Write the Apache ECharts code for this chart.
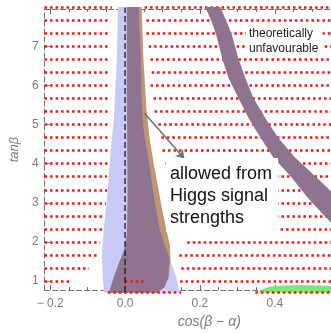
<!DOCTYPE html>
<html>
<head>
<meta charset="utf-8">
<script src="https://cdn.jsdelivr.net/npm/echarts@6/dist/echarts.min.js"></script>
<style>
  html, body { margin: 0; padding: 0; background: #fff; }
  #chart { width: 331px; height: 334px; }
</style>
</head>
<body>
<div id="chart"></div>
<script>
// axis ranges (cos(beta-alpha), tan beta)
var cosMin = -0.215, cosMax = 0.55;
var tanMin = 0.77, tanMax = 7.95;
var cosTicks = [-0.2, 0, 0.2, 0.4];
var cosMinorTicks = [-0.15, -0.1, -0.05, 0.05, 0.1, 0.15, 0.25, 0.3, 0.35, 0.45, 0.5];
var tanTicks = [1, 2, 3, 4, 5, 6, 7];
var tanMinorTicks = [0.8, 1.2, 1.4, 1.6, 1.8, 2.2, 2.4, 2.6, 2.8, 3.2, 3.4, 3.6, 3.8,
  4.2, 4.4, 4.6, 4.8, 5.2, 5.4, 5.6, 5.8, 6.2, 6.4, 6.6, 6.8, 7.2, 7.4, 7.6, 7.8];

// red scan rows: tan beta of each row, where the left part stops and right part restarts
var rowTanBeta = [1, 1.333, 1.667, 2, 2.333, 2.667, 3, 3.333, 3.667, 4, 4.333,
  4.667, 5, 5.333, 5.667, 6, 6.333, 6.667, 7, 7.333, 7.667, 8];
var rowLeftEnd = [-0.146, -0.096, -0.075, -0.067, -0.059, -0.056, -0.051, -0.048,
  -0.048, -0.046, -0.040, -0.040, -0.040, -0.040, -0.040, -0.040, -0.040, -0.040,
  -0.040, -0.040, -0.040, -0.035];
var rowRightStart = [0.147, 0.150, 0.145, 0.166, 0.195, 0.124, 0.124, 0.124, 0.124,
  0.108, 0.100, 0.097, 0.089, 0.079, 0.076, 0.068, 0.071, 0.068, 0.063, 0.057,
  0.057, 0.052];
// odd pieces [from, to, tan beta]
var extraSegments = [[-0.001, 0.049, 1], [-0.046, 0.150, 0.72], [0.348, 0.55, 0.72]];

// regions, [cos(beta-alpha), tan beta]
var blueRegion = [[-0.019, 8.0], [-0.022, 6.67], [-0.030, 5.16], [-0.040, 4.16],
  [-0.048, 3.15], [-0.056, 2.40], [-0.062, 1.65], [-0.059, 1.02], [-0.056, 0.70],
  [0.145, 0.70], [0.137, 1.10], [0.126, 1.40], [0.118, 1.60], [0.105, 1.95],
  [0.092, 2.33], [0.084, 2.78], [0.073, 3.40], [0.065, 3.98], [0.057, 4.41],
  [0.049, 4.91], [0.044, 5.67], [0.042, 6.67], [0.036, 8.0]];
var orangeRegion = [[0.005, 8.0], [0.005, 5.67], [0.007, 3.15], [0.005, 2.15],
  [-0.003, 1.77], [-0.014, 1.52], [-0.030, 1.10], [-0.043, 0.70],
  [0.084, 0.70], [0.105, 0.84], [0.116, 1.10], [0.121, 1.52], [0.120, 1.90],
  [0.111, 2.28], [0.100, 2.78], [0.088, 3.40], [0.077, 3.98], [0.065, 4.66],
  [0.057, 5.41], [0.049, 6.67], [0.044, 8.0]];
var overlapRegion = [[0.005, 8.0], [0.005, 5.67], [0.007, 3.15], [0.005, 2.15],
  [-0.003, 1.77], [-0.014, 1.52], [-0.030, 1.10], [-0.043, 0.70],
  [0.084, 0.70], [0.105, 0.84], [0.116, 1.10], [0.118, 1.52], [0.118, 1.60],
  [0.105, 1.95], [0.092, 2.33], [0.084, 2.78], [0.073, 3.40], [0.065, 3.98],
  [0.057, 4.41], [0.049, 4.91], [0.044, 5.67], [0.042, 6.67], [0.036, 8.0]];
var bandRegion = [[0.214, 8.0], [0.232, 7.61], [0.243, 7.30], [0.260, 6.67],
  [0.277, 6.17], [0.303, 5.67], [0.330, 5.16], [0.362, 4.66], [0.396, 4.16],
  [0.444, 3.66], [0.486, 3.15], [0.534, 2.65], [0.600, 2.02],
  [0.626, 2.65], [0.560, 3.20], [0.510, 3.66], [0.454, 4.16], [0.409, 4.66],
  [0.375, 5.16], [0.343, 5.67], [0.322, 6.17], [0.303, 6.67], [0.285, 7.30],
  [0.272, 7.61], [0.254, 8.0]];
var greenRegion = [[0.354, 0.70], [0.367, 0.79], [0.388, 0.86], [0.428, 0.89],
  [0.467, 0.90], [0.549, 0.88], [0.586, 0.87], [0.586, 0.70]];

var zeroLineTan = [0.72, 7.98];
var arrowFrom = [0.052, 5.29];
var arrowTo = [0.158, 4.13];

var chart = echarts.init(document.getElementById('chart'), null, {renderer: 'canvas'});

function regionSeries(points, color, z) {
    return {
        type: 'custom',
        coordinateSystem: 'cartesian2d',
        silent: true,
        clip: false,
        z: z,
        data: [[0, 1]],
        renderItem: function (params, api) {
            var pts = points.map(function (p) { return api.coord(p); });
            return {type: 'polygon', shape: {points: pts}, style: {fill: color}};
        }
    };
}

var dotLines = [];
rowTanBeta.forEach(function (t, i) {
    dotLines.push({coords: [[cosMin, t], [rowLeftEnd[i], t]]});
    dotLines.push({coords: [[rowRightStart[i], t], [cosMax, t]]});
});
extraSegments.forEach(function (s) {
    dotLines.push({coords: [[s[0], s[2]], [s[1], s[2]]]});
});

var frameColor = '#707070';
var labelColor = '#7c7c7c';

function cosLabel(v) {
    if (Math.abs(v) < 1e-9) return '0.0';
    return v < 0 ? '\u2212 ' + (-v).toFixed(1) : v.toFixed(1);
}

var option = {
    animation: false,
    grid: {left: 42, right: 0, top: 9, bottom: 39, containLabel: false},
    xAxis: [
        {
            type: 'value', min: cosMin, max: cosMax, position: 'bottom',
            axisLine: {show: true, onZero: false, lineStyle: {color: frameColor, type: [5, 3], width: 1}},
            axisTick: {show: true, inside: true, length: 5, customValues: cosTicks, lineStyle: {color: frameColor}},
            axisLabel: {customValues: cosTicks, formatter: cosLabel, color: labelColor, fontSize: 12,
                fontFamily: 'Liberation Sans', margin: 8},
            splitLine: {show: false},
            name: 'cos(β − α)', nameLocation: 'middle', nameGap: 24,
            nameTextStyle: {color: labelColor, fontSize: 14, fontStyle: 'italic',
                fontFamily: 'Liberation Sans', padding: [0, 0, 0, 43]}
        },
        {
            type: 'value', min: cosMin, max: cosMax, position: 'bottom',
            axisLine: {show: false},
            axisTick: {show: true, inside: true, length: 3, customValues: cosMinorTicks, lineStyle: {color: frameColor}},
            axisLabel: {show: false}, splitLine: {show: false}
        },
        {
            type: 'value', min: cosMin, max: cosMax, position: 'top',
            axisLine: {show: true, onZero: false, lineStyle: {color: frameColor, type: [5, 3], width: 1}},
            axisTick: {show: true, inside: true, length: 5, customValues: cosTicks, lineStyle: {color: frameColor}},
            axisLabel: {show: false}, splitLine: {show: false}
        },
        {
            type: 'value', min: cosMin, max: cosMax, position: 'top',
            axisLine: {show: false},
            axisTick: {show: true, inside: true, length: 3, customValues: cosMinorTicks, lineStyle: {color: frameColor}},
            axisLabel: {show: false}, splitLine: {show: false}
        }
    ],
    yAxis: [
        {
            type: 'value', min: tanMin, max: tanMax, position: 'left',
            axisLine: {show: true, onZero: false, lineStyle: {color: frameColor, type: [5, 3], width: 1}},
            axisTick: {show: true, inside: true, length: 5, customValues: tanTicks, lineStyle: {color: frameColor}},
            axisLabel: {customValues: tanTicks, color: labelColor, fontSize: 12,
                fontFamily: 'Liberation Sans', margin: 6},
            splitLine: {show: false},
            name: 'tanβ', nameLocation: 'middle', nameGap: 22,
            nameTextStyle: {color: labelColor, fontSize: 13, fontStyle: 'italic', fontFamily: 'Liberation Sans'}
        },
        {
            type: 'value', min: tanMin, max: tanMax, position: 'left',
            axisLine: {show: false},
            axisTick: {show: true, inside: true, length: 3, customValues: tanMinorTicks, lineStyle: {color: frameColor}},
            axisLabel: {show: false}, splitLine: {show: false}
        }
    ],
    series: [
        regionSeries(greenRegion, '#74ec74', 1),
        regionSeries(blueRegion, '#c9c9f7', 1),
        regionSeries(orangeRegion, '#bf966e', 2),
        regionSeries(overlapRegion, '#8f7490', 3),
        {
            type: 'lines',
            coordinateSystem: 'cartesian2d',
            silent: true,
            clip: false,
            z: 4,
            lineStyle: {color: '#ff1010', width: 2.5, type: [2.5, 3], opacity: 1, cap: 'butt'},
            data: dotLines
        },
        regionSeries(bandRegion, '#8f7490', 5),
        {
            type: 'line',
            silent: true,
            clip: false,
            z: 6,
            symbol: 'none',
            lineStyle: {color: '#1a1a1a', width: 1.3, type: [6, 3]},
            data: zeroLineTan.map(function (t) { return [0, t]; })
        },
        {
            type: 'lines',
            coordinateSystem: 'cartesian2d',
            silent: true,
            z: 7,
            symbol: ['none', 'arrow'],
            symbolSize: 8,
            lineStyle: {color: '#6e6e6e', width: 1.5, opacity: 1},
            data: [{coords: [arrowFrom, arrowTo]}]
        }
    ],
    graphic: [
        {
            type: 'text', left: 166, top: 158, z: 100,
            style: {
                text: 'allowed from\nHiggs signal\nstrengths',
                font: '18px "Liberation Sans", Arial, sans-serif',
                fill: '#111', backgroundColor: '#fff', padding: [5, 6, 3, 4], lineHeight: 22
            }
        },
        {
            type: 'text', left: 246, top: 26, z: 100,
            style: {
                text: 'theoretically\nunfavourable',
                font: '12px "Liberation Sans", Arial, sans-serif',
                fill: '#222', backgroundColor: '#fff', padding: [0, 4, 0, 3], lineHeight: 15
            }
        }
    ]
};

chart.setOption(option);
</script>
</body>
</html>
